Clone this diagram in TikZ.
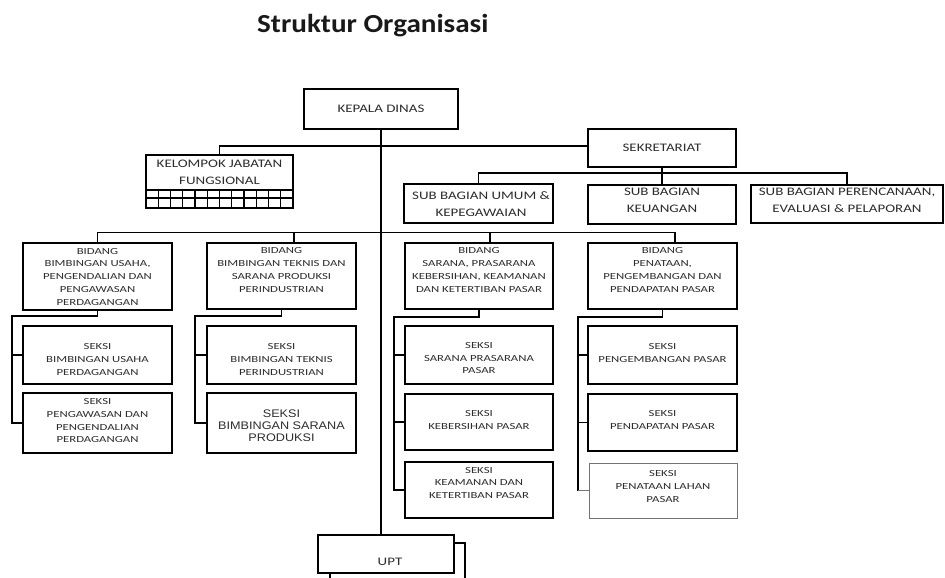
\documentclass[tikz,border=0pt]{standalone}
\usepackage{fontspec}
\setmainfont{Carlito}
\newfontfamily\bigf[FakeStretch=1.3]{Carlito}
\newfontfamily\smf[FakeStretch=1.37]{Carlito}
\newfontfamily\arf[FakeStretch=1.15]{Liberation Sans}
\newfontfamily\titlef[FakeStretch=1.12]{Carlito}
\definecolor{txtc}{RGB}{45,45,45}
\newcommand{\orgbox}[6][box]{%
  \node[#1, minimum width={(#5-#3)*1pt}, minimum height={(#6-#4)*1pt}] (#2) at ({(#3+#5)/2},{(#4+#6)/2}) {};}
\tikzset{
  box/.style={draw=black, line width=1.5pt, rectangle, inner sep=0pt, outer sep=0pt},
  thinbox/.style={draw=black!55, line width=0.8pt, rectangle, inner sep=0pt, outer sep=0pt},
  bigtxt/.style={align=center, text=txtc, inner sep=0pt, font=\bigf\fontsize{11.5}{16.7}\selectfont},
  smtxt/.style={align=center, text=txtc, inner sep=0pt, font=\smf\fontsize{9.3}{12.7}\selectfont},
  artxt/.style={align=center, text=txtc, inner sep=0pt, font=\arf\fontsize{11}{12.4}\selectfont},
  link/.style={draw=black, line width=1.5pt},
  thinlink/.style={draw=black!55, line width=0.8pt},
  gridl/.style={draw=black, line width=1.2pt}
}
\begin{document}
\begin{tikzpicture}[x=1pt,y=-1pt]
\useasboundingbox[fill=white] (0,0) rectangle (945,578);
% title
\node[anchor=base west, inner sep=0pt, text=black!90, font=\titlef\bfseries\fontsize{26}{30}\selectfont] (title) at (257,33) {Struktur Organisasi};
% boxes
\orgbox{kd}{304}{89}{458}{129}
\orgbox{kjf}{146}{155}{293}{208}
\orgbox{sek}{588}{129}{736}{167}
\orgbox{sbu}{404}{184}{553}{223}
\orgbox{sbk}{588}{185}{736}{224}
\orgbox{sbp}{751}{185}{943}{223}
\orgbox{b1}{23}{243}{172}{310}
\orgbox{b2}{207}{243}{356}{309}
\orgbox{b3}{405}{243}{553}{309}
\orgbox{b4}{588}{243}{737}{309}
\orgbox{s1a}{23}{326}{172}{384}
\orgbox{s1b}{23}{393}{172}{453}
\orgbox{s2a}{207}{326}{356}{384}
\orgbox{s2b}{207}{393}{356}{453}
\orgbox{s3a}{405}{326}{553}{384}
\orgbox{s3b}{405}{394}{553}{450}
\orgbox{s3c}{405}{462}{553}{518}
\orgbox{s4a}{588}{326}{737}{384}
\orgbox{s4b}{588}{394}{737}{451}
\orgbox[thinbox]{s4c}{589}{463}{737}{518}
\orgbox{upt}{318}{535}{454}{573}
% KJF grid
\coordinate (gtop) at (0,190);
\coordinate (gmid) at (0,198);
\draw[gridl] (kjf.west |- gtop) -- (kjf.east |- gtop);
\draw[gridl] (kjf.west |- gmid) -- (kjf.east |- gmid);
\foreach \i in {1,...,11} {\draw[gridl] ({146+\i*12.25},190) -- ({146+\i*12.25},208);}
% texts
\node[bigtxt] (kdt) at (381,109) {KEPALA DINAS};
\node[bigtxt] (kjft) at (219.5,172) {KELOMPOK JABATAN\\FUNGSIONAL};
\node[bigtxt] (sekt) at (662,148) {SEKRETARIAT};
\node[bigtxt] (sbut) at (481,204) {SUB BAGIAN UMUM \&\\KEPEGAWAIAN};
\node[bigtxt] (sbkt) at (662,200.5) {SUB BAGIAN\\KEUANGAN};
\node[bigtxt] (sbpt) at (847,200) {SUB BAGIAN PERENCANAAN,\\EVALUASI \& PELAPORAN};
\node[smtxt] (b1t) at (97.5,276.7) {BIDANG\\BIMBINGAN USAHA,\\PENGENDALIAN DAN\\PENGAWASAN\\PERDAGANGAN};
\node[smtxt] (b2t) at (281.5,270) {BIDANG\\BIMBINGAN TEKNIS DAN\\SARANA PRODUKSI\\PERINDUSTRIAN};
\node[smtxt] (b3t) at (479,270) {BIDANG\\SARANA, PRASARANA\\KEBERSIHAN, KEAMANAN\\DAN KETERTIBAN PASAR};
\node[smtxt] (b4t) at (662.5,270) {BIDANG\\PENATAAN,\\PENGEMBANGAN DAN\\PENDAPATAN PASAR};
\node[smtxt] (s1at) at (97.5,359.5) {SEKSI\\BIMBINGAN USAHA\\PERDAGANGAN};
\node[smtxt] (s1bt) at (97.5,420.7) {SEKSI\\PENGAWASAN DAN\\PENGENDALIAN\\PERDAGANGAN};
\node[smtxt] (s2at) at (281.5,359.5) {SEKSI\\BIMBINGAN TEKNIS\\PERINDUSTRIAN};
\node[artxt] (s2bt) at (281.5,425.8) {SEKSI\\BIMBINGAN SARANA\\PRODUKSI};
\node[smtxt] (s3at) at (479,358.3) {SEKSI\\SARANA PRASARANA\\PASAR};
\node[smtxt] (s3bt) at (479,419.7) {SEKSI\\KEBERSIHAN PASAR};
\node[smtxt] (s3ct) at (479,482.8) {SEKSI\\KEAMANAN DAN\\KETERTIBAN PASAR};
\node[smtxt] (s4at) at (662.5,353.3) {SEKSI\\PENGEMBANGAN PASAR};
\node[smtxt] (s4bt) at (662.5,419.7) {SEKSI\\PENDAPATAN PASAR};
\node[smtxt] (s4ct) at (663,486.6) {SEKSI\\PENATAAN LAHAN\\PASAR};
\node[bigtxt] (uptt) at (390,562) {UPT};
% connectors
\draw[link] (kd.south) -- (kd.south |- upt.north);
\coordinate (kjfc) at (220,146);
\draw[link] (kjf.north) -- (kjf.north |- kjfc) -- (kjfc -| sek.west);
\coordinate (sbh) at (0,173);
\draw[link] (sek.south) -- (sbk.north);
\draw[link] (sbu.north) -- (sbu.north |- sbh) -- (sbp.north |- sbh) -- (sbp.north);
\coordinate (bh) at (0,232.5);
\draw[link] (b1.north) -- (b1.north |- bh) -- ([xshift=12.5pt]b4.north |- bh) -- ([xshift=12.5pt]b4.north);
\draw[link] ([xshift=12.5pt]b2.north |- bh) -- ([xshift=12.5pt]b2.north);
\draw[link] ([xshift=11pt]b3.north |- bh) -- ([xshift=11pt]b3.north);
% group 1
\coordinate (g1) at (12,316);
\draw[link] (b1.south) -- (b1.south |- g1) -- (g1) -- (g1 |- s1b.west) -- (s1b.west);
\draw[link] (g1 |- s1a.west) -- (s1a.west);
% group 2
\coordinate (g2) at (195,316);
\draw[link] (b2.south) -- (b2.south |- g2) -- (g2) -- (g2 |- s2b.west) -- (s2b.west);
\draw[link] (g2 |- s2a.west) -- (s2a.west);
% group 3
\coordinate (g3) at (394,317);
\draw[link] (b3.south) -- (b3.south |- g3) -- (g3) -- (g3 |- s3c.west) -- (s3c.west);
\draw[link] (g3 |- s3a.west) -- (s3a.west);
\draw[link] (g3 |- s3b.west) -- (s3b.west);
% group 4
\coordinate (g4) at (578,317);
\draw[link] (b4.south) -- (b4.south |- g4) -- (g4) -- (g4 |- s4c.west);
\draw[thinlink] (g4 |- s4c.west) -- (s4c.west);
\draw[link] (g4 |- s4a.west) -- (s4a.west);
\draw[link] (g4 |- s4b.west) -- (s4b.west);
% UPT
\coordinate (uend) at (465,578);
\coordinate (ubot) at (330,578);
\draw[link] ([yshift=-8pt]upt.north east) -| (uend);
\draw[link] (upt.south -| ubot) -- (ubot);
\end{tikzpicture}
\end{document}
